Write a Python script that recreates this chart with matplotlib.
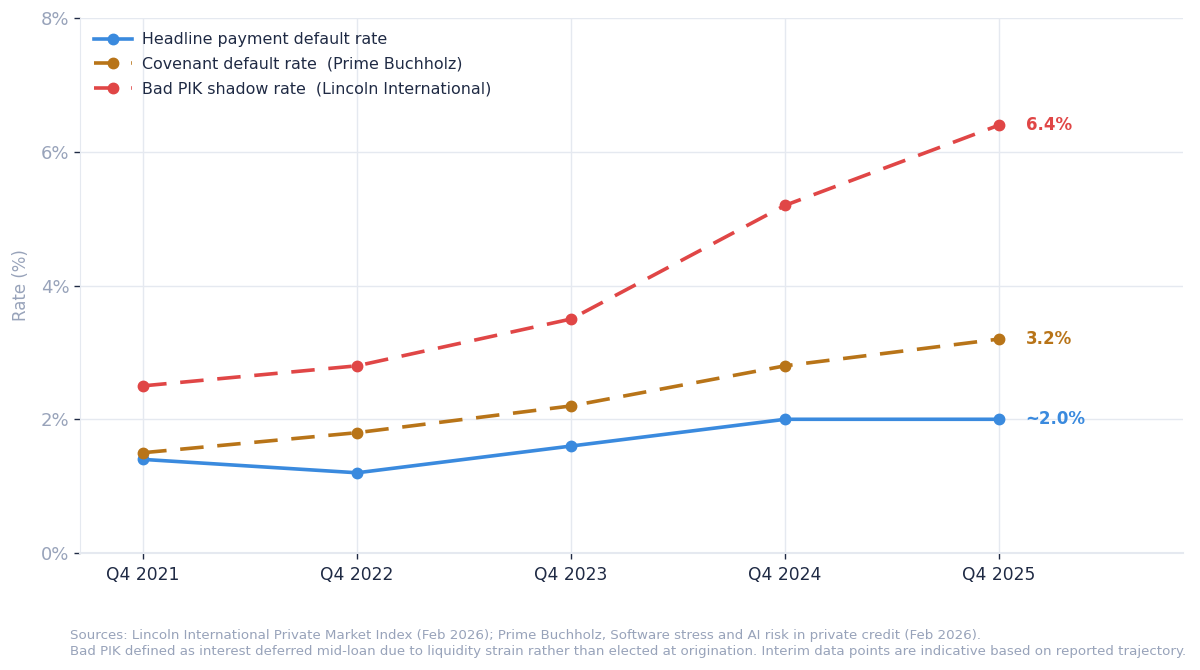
import matplotlib.pyplot as plt
import numpy as np

quarters = ["Q4 2021", "Q4 2022", "Q4 2023", "Q4 2024", "Q4 2025"]
headline = [1.4, 1.2, 1.6, 2.0, 2.0]
covenant = [1.5, 1.8, 2.2, 2.8, 3.2]
bad_pik = [2.5, 2.8, 3.5, 5.2, 6.4]
end_labels = ["~2.0%", "3.2%", "6.4%"]
yticks = [0, 2, 4, 6, 8]

BLUE = "#3a8ade"
ORANGE = "#b87418"
RED = "#e04646"
GRID = "#e5e9f0"
MUTED = "#98a3ba"
DARK = "#1f2a44"

fig = plt.figure(figsize=(12, 6.7), dpi=100)
ax = fig.add_axes([0.0667, 0.1746, 0.9193, 0.7984])

x = np.arange(len(quarters))
ax.plot(x, headline, color=BLUE, lw=2.6, marker="o", ms=7.5,
        label="Headline payment default rate", zorder=3)
ax.plot(x, covenant, color=ORANGE, lw=2.6, marker="o", ms=7.5, dashes=(6.5, 3.8),
        label="Covenant default rate  (Prime Buchholz)", zorder=3)
ax.plot(x, bad_pik, color=RED, lw=2.6, marker="o", ms=7.5, dashes=(6.5, 3.8),
        label="Bad PIK shadow rate  (Lincoln International)", zorder=3)

# end-of-line value labels
for vals, lab, col in zip([headline, covenant, bad_pik], end_labels, [BLUE, ORANGE, RED]):
    ax.annotate(lab, (x[-1], vals[-1]), xytext=(19, 0), textcoords="offset points",
                va="center", ha="left", color=col, fontsize=12, fontweight="bold")

ax.set_xlim(-0.295, 4.86)
ax.set_ylim(0, 8)
ax.set_xticks(x)
ax.set_xticklabels(quarters)
ax.set_yticks(yticks)
ax.set_yticklabels([f"{v}%" for v in yticks])
ax.tick_params(axis="x", colors=DARK, labelsize=12.3, length=4, width=1, pad=5, color=DARK)
ax.tick_params(axis="y", labelcolor=MUTED, labelsize=13, length=4, width=1, color=DARK)
ax.grid(True, color=GRID, lw=1)
ax.set_axisbelow(True)
for s in ["top", "right"]:
    ax.spines[s].set_visible(False)
ax.spines["left"].set_color(GRID)
ax.spines["bottom"].set_color(GRID)
ax.spines["bottom"].set_linewidth(1.5)

ax.set_ylabel("Rate (%)", color=MUTED, fontsize=12, labelpad=8)

leg = ax.legend(loc="upper left", frameon=False, fontsize=11.4, handlelength=2.4,
                handletextpad=0.6, bbox_to_anchor=(0.0, 1.0), labelspacing=0.6)
for t in leg.get_texts():
    t.set_color(DARK)

fig.text(0.058, 0.018,
         "Sources: Lincoln International Private Market Index (Feb 2026); Prime Buchholz, Software stress and AI risk in private credit (Feb 2026).\n"
         "Bad PIK defined as interest deferred mid-loan due to liquidity strain rather than elected at origination. Interim data points are indicative based on reported trajectory.",
         color=MUTED, fontsize=9.6, ha="left", va="bottom", linespacing=1.25)

fig.savefig("out.png", dpi=100, facecolor="white")
